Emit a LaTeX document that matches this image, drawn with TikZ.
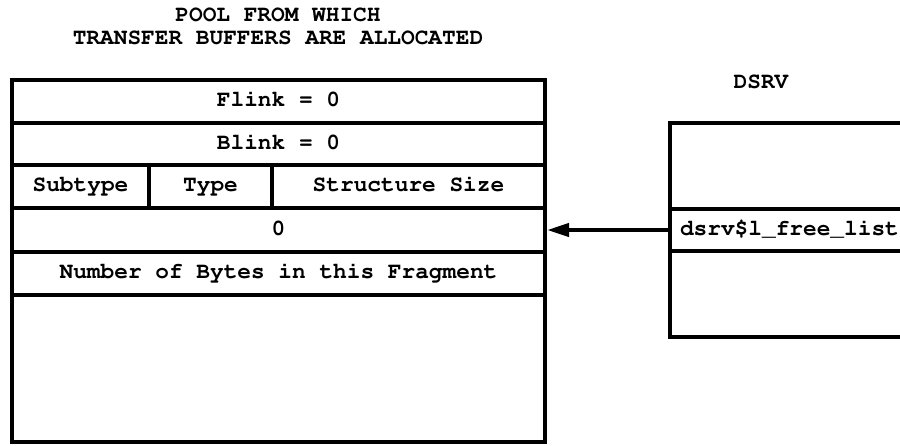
\documentclass[tikz,border=0pt]{standalone}
\usepackage[T1]{fontenc}
\usepackage{courier}
\usetikzlibrary{arrows.meta}

\tikzset{
  cell/.style={draw,line width=2pt,inner sep=0pt,text height=7.5pt,text depth=2.5pt,
    font=\ttfamily\bfseries\fontsize{11.4}{12}\selectfont},
  heading/.style={align=center,inner sep=0pt,
    font=\ttfamily\bfseries\fontsize{11.4}{11.5}\selectfont}
}

\begin{document}
\begin{tikzpicture}[x=0.5pt,y=-0.5pt]
  \useasboundingbox (0,0) rectangle (900,445);
  \clip (0,0) rectangle (900,445);

  \node[heading] (pooltitle) at (278,26.5) {POOL FROM WHICH\\TRANSFER BUFFERS ARE ALLOCATED};
  \node[heading] (dsrvtitle) at (761,82) {DSRV};

  % pool fragment
  \node[cell,minimum width=266.5pt,minimum height=21.5pt] (flink) at (278.5,101.5) {Flink = 0};
  \node[cell,minimum width=266.5pt,minimum height=21pt] (blink) at (278.5,144) {Blink = 0};
  \node[cell,minimum width=68.5pt,minimum height=21.5pt] (subtype) at (80.5,186.5) {Subtype};
  \node[cell,minimum width=61.5pt,minimum height=21.5pt] (type) at (210.5,186.5) {Type};
  \node[cell,minimum width=136.5pt,minimum height=21.5pt] (size) at (408.5,186.5) {Structure Size};
  \node[cell,minimum width=266.5pt,minimum height=22pt] (zero) at (278.5,230) {0};
  \node[cell,minimum width=266.5pt,minimum height=21.5pt] (bytes) at (278.5,273.5) {Number of Bytes in this Fragment};
  \node[cell,minimum width=266.5pt,minimum height=73.5pt] (rest) at (278.5,368.5) {};

  % dsrv
  \node[cell,minimum width=145pt,minimum height=43pt] (dsrvtop) at (815,166) {};
  \node[cell,minimum width=145pt,minimum height=21pt] (free) at (815,230) {};
  \node[cell,minimum width=145pt,minimum height=43pt] (dsrvbot) at (815,294) {};
  \node[cell,draw=none,anchor=west] (freename) at ([xshift=5pt]free.west) {dsrv\$l\_free\_list};

  \draw[line width=2pt,-{Triangle[length=11pt,width=6.5pt]}] (free.west) -- (zero.east);
\end{tikzpicture}
\end{document}
